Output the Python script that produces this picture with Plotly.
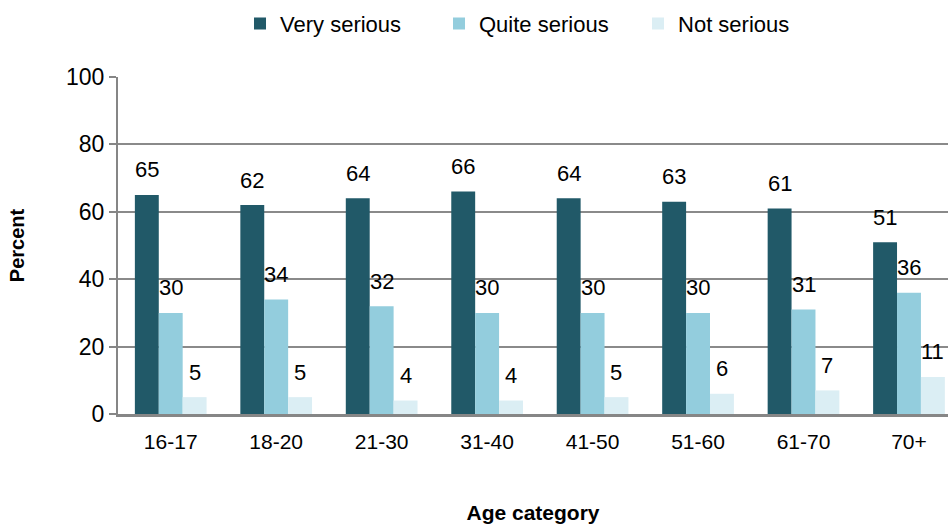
import plotly.graph_objects as go

categories = ["16-17", "18-20", "21-30", "31-40", "41-50", "51-60", "61-70", "70+"]
very_serious = [65, 62, 64, 66, 64, 63, 61, 51]
quite_serious = [30, 34, 32, 30, 30, 30, 31, 36]
not_serious = [5, 5, 4, 4, 5, 6, 7, 11]

series = [
    ("Very serious", very_serious, "#215968"),
    ("Quite serious", quite_serious, "#93CDDD"),
    ("Not serious", not_serious, "#DBEEF4"),
]

FONT = "Liberation Sans, Arial, sans-serif"
BARGAP = 0.32

fig = go.Figure()
for name, vals, color in series:
    fig.add_trace(go.Bar(
        x=categories, y=vals, name=name,
        marker=dict(color=color, line=dict(width=0)),
    ))

# value labels above each bar, placed at the bar's position within its group
bar_w = (1 - BARGAP) / len(series)
for k, (name, vals, color) in enumerate(series):
    off = (k - (len(series) - 1) / 2) * bar_w
    for i, v in enumerate(vals):
        fig.add_annotation(
            x=i + off, y=v, text=str(v), showarrow=False,
            xref="x", yref="y", yanchor="middle", yshift=25,
            font=dict(family=FONT, size=22, color="#000000"),
        )

fig.update_layout(
    width=948, height=524,
    margin=dict(l=118, r=0, t=77, b=110),
    paper_bgcolor="white", plot_bgcolor="white",
    barmode="group", bargap=BARGAP, bargroupgap=0,
    font=dict(family=FONT, size=20, color="#000000"),
    showlegend=True,
    legend=dict(
        orientation="h", x=0.147, xanchor="left",
        yref="container", y=0.995, yanchor="top",
        font=dict(family=FONT, size=22),
        itemwidth=30, traceorder="normal",
        entrywidth=154, entrywidthmode="pixels",
    ),
    xaxis=dict(
        range=[-0.5, 7.37],
        showline=True, linecolor="#868686", linewidth=3,
        ticks="", tickfont=dict(size=21), ticklabelstandoff=7,
        title=dict(text="<b>Age category</b>", font=dict(size=21), standoff=57),
        showgrid=False, zeroline=False,
    ),
    yaxis=dict(
        range=[0, 100], tickvals=[0, 20, 40, 60, 80, 100],
        showline=True, linecolor="#868686", linewidth=2,
        ticks="outside", ticklen=7, tickcolor="#868686", tickwidth=2,
        tickfont=dict(size=23),
        showgrid=True, gridcolor="#8a8a8a", gridwidth=2,
        zeroline=False,
        title=dict(text="<b>Percent</b>", font=dict(size=20), standoff=36),
    ),
)

fig.write_html("out.html")
